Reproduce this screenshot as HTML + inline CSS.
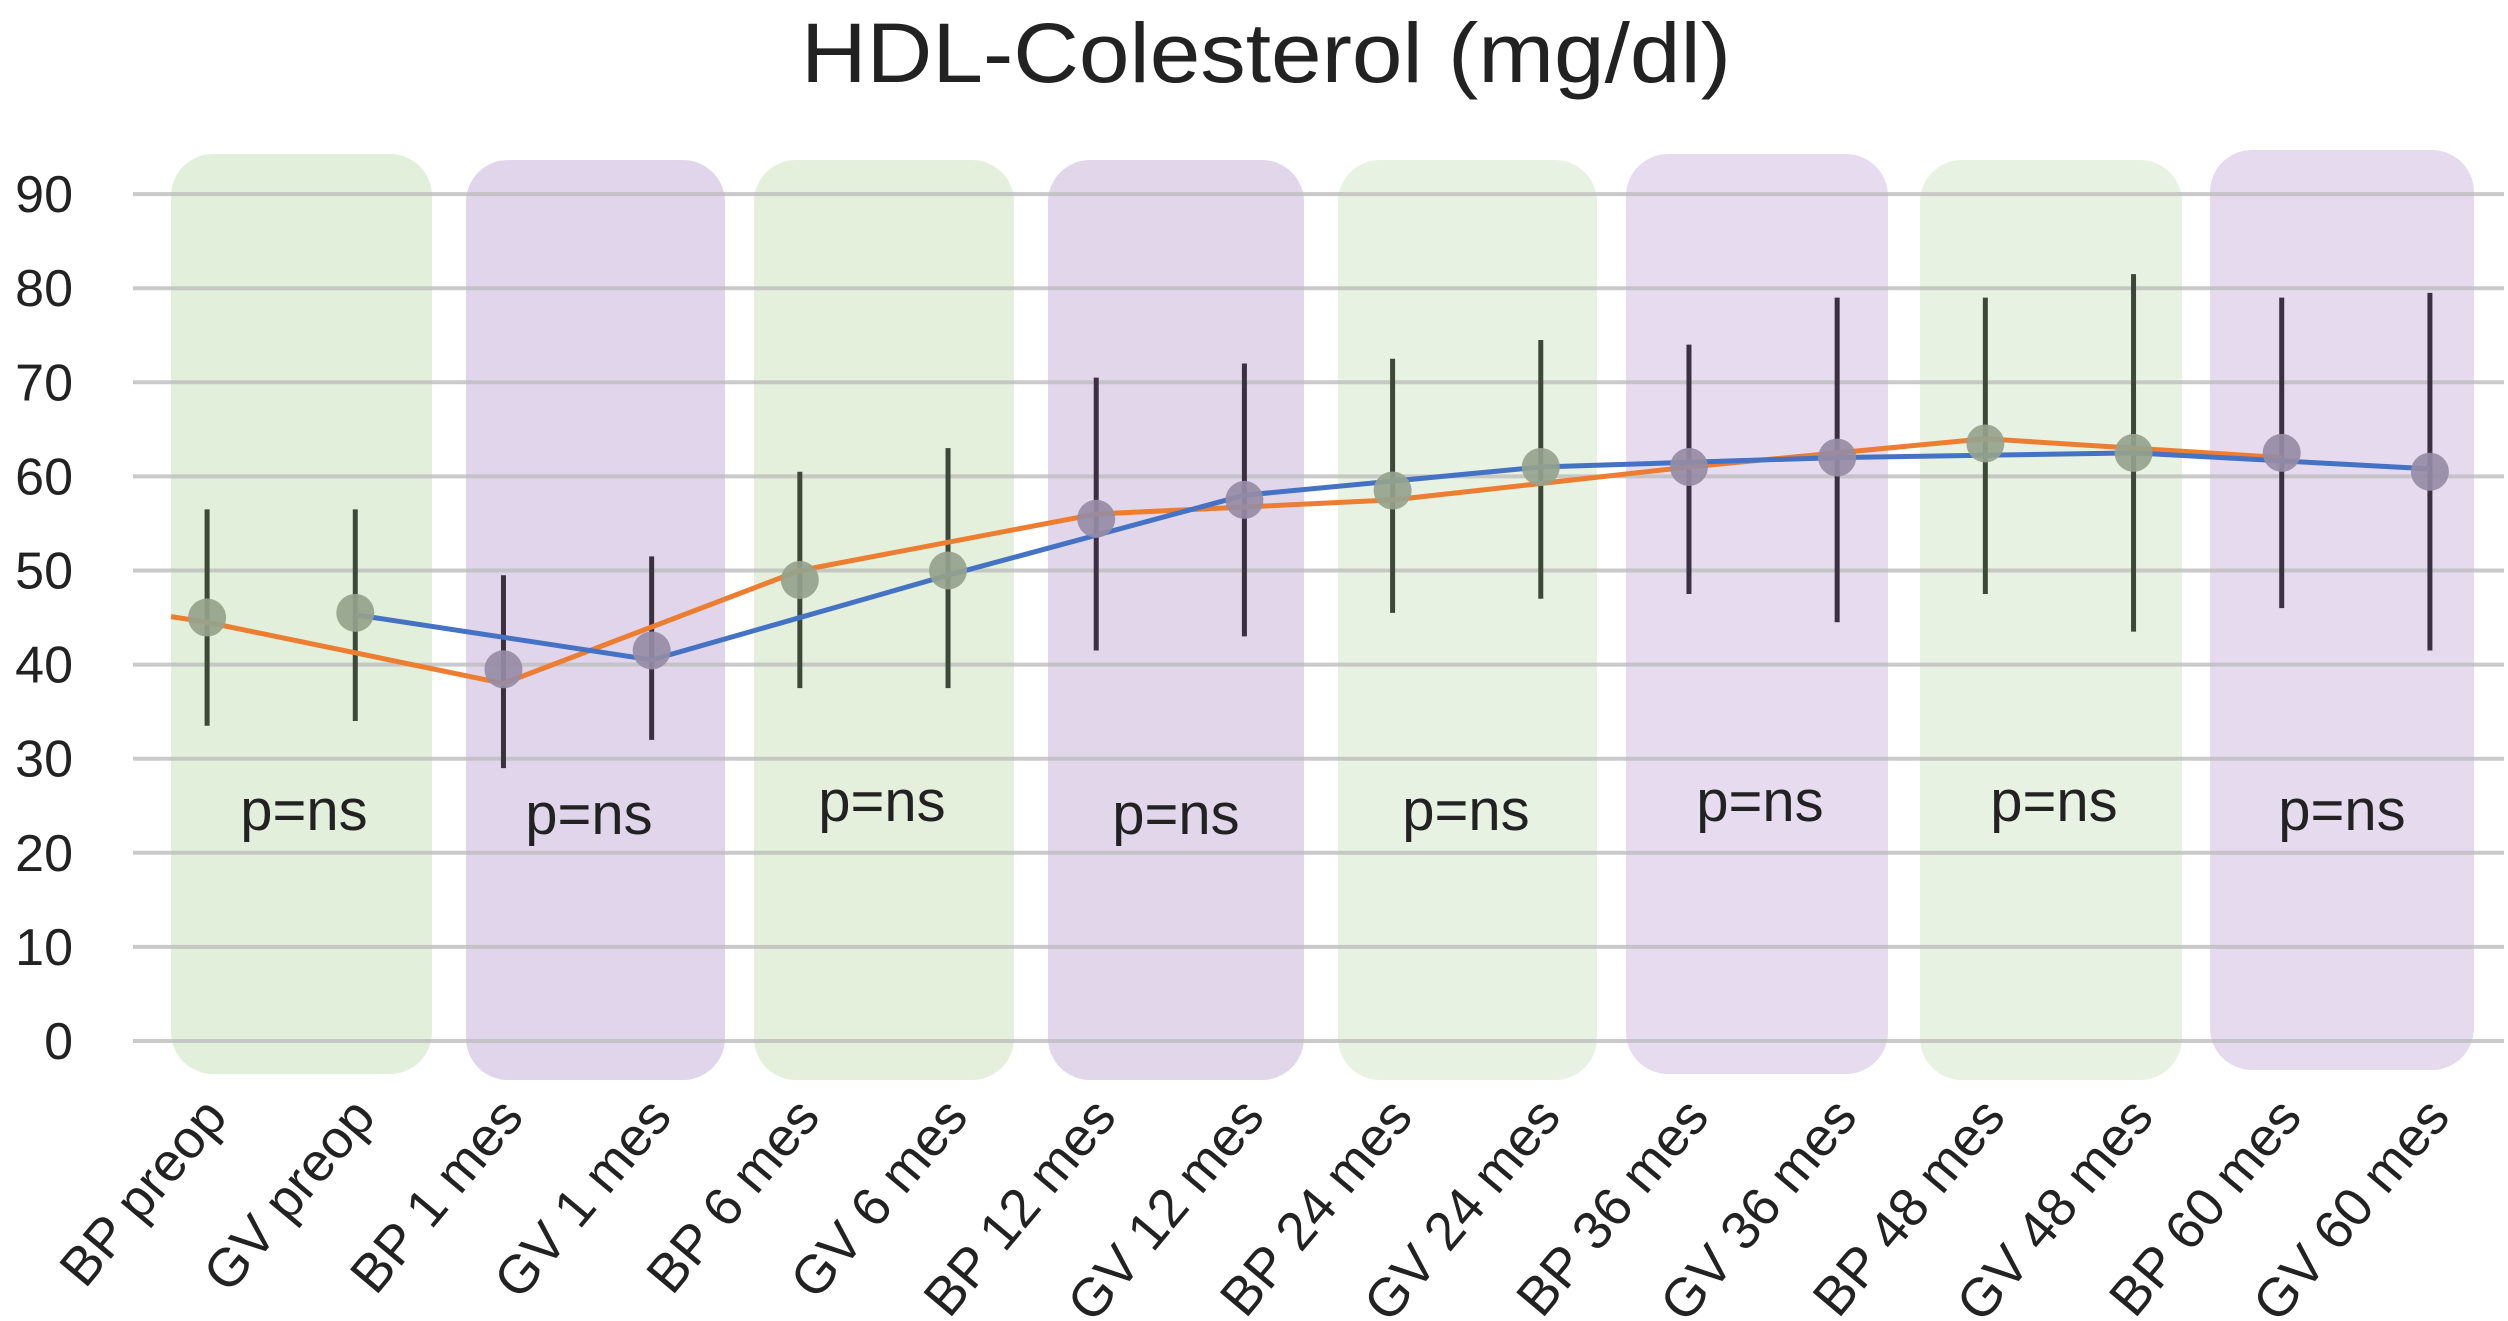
<!DOCTYPE html>
<html><head><meta charset="utf-8">
<style>html,body{margin:0;padding:0;background:#fff}svg{display:block}</style>
</head><body>
<svg id="chart" width="2508" height="1321" viewBox="0 0 2508 1321" xmlns="http://www.w3.org/2000/svg" font-family="'Liberation Sans', sans-serif">
<text x="1266" y="82" font-size="84" text-anchor="middle" fill="#222" textLength="930" lengthAdjust="spacingAndGlyphs">HDL-Colesterol (mg/dl)</text>
<g id="boxes"></g><g id="grid"></g><g id="plabels"></g><g id="series"></g><g id="xlabels"></g>
</svg>
<script>
const categories = ["BP preop","GV preop","BP 1 mes","GV 1 mes","BP 6 mes","GV 6 mes","BP 12 mes","GV 12 mes","BP 24 mes","GV 24 mes","BP 36 mes","GV 36 mes","BP 48 mes","GV 48 mes","BP 60 mes","GV 60 mes"];
const means = [45,45.5,39.5,41.5,49,50,55.5,57.5,58.5,61,61,62,63.5,62.5,62.5,60.5];
const errHigh = [56.5,56.5,49.5,51.5,60.5,63,70.5,72,72.5,74.5,74,79,79,81.5,79,79.5];
const errLow = [33.5,34,29,32,37.5,37.5,41.5,43,45.5,47,47.5,44.5,47.5,43.5,46,41.5];
const bpLine = [44.5,38,50,56,57.5,61,64,62];
const gvLine = [45.3,40.5,49.5,58,61,62,62.5,60.8];
const yTicks = [0,10,20,30,40,50,60,70,80,90];
const pLabels = ["p=ns","p=ns","p=ns","p=ns","p=ns","p=ns","p=ns","p=ns"];

const NS="http://www.w3.org/2000/svg";
const X0=133, X1=2504, Y0=1041, PXU=9.41;
const step=(X1-X0)/categories.length;
const x=i=>X0+step*(i+0.5);
const y=v=>Y0-v*PXU;
function mk(t,a,p){const e=document.createElementNS(NS,t);for(const k in a)e.setAttribute(k,a[k]);p.appendChild(e);return e;}
const boxL=[171,466,754,1048,1338,1626,1920,2210], boxR=[432,725,1014,1304,1597,1888,2182,2474];
const boxT=[154,160,160,160,160,154,160,150], boxB=[1074,1080,1080,1080,1080,1074,1080,1070];
const boxC=["#e2efda","#e1d5eb","#e4f0dc","#e2d6eb","#e8f2e2","#e7dcef","#e8f2e2","#e6daee"];
const bg=document.getElementById('boxes');
for(let k=0;k<8;k++){
  const r=mk('rect',{x:boxL[k],y:boxT[k],width:boxR[k]-boxL[k],height:boxB[k]-boxT[k],rx:42,fill:boxC[k]},bg);
  
  
}
const gg=document.getElementById('grid');
yTicks.forEach(v=>{
  const l=mk('line',{x1:X0,x2:X1,y1:y(v),y2:y(v),stroke:'#bdbdbd','stroke-width':4,'stroke-opacity':0.8},gg);
  
  
  const t=mk('text',{x:73,y:y(v)+18,'font-size':52,'text-anchor':'end',fill:'#222'},gg);
  t.textContent=v;
  
  
});
const pg=document.getElementById('plabels');
const pY=[830,834,821,834,830,821,821,830];
const pX=[304,589,882,1176,1466,1760,2054,2342];
pLabels.forEach((s,k)=>{
  const t=mk('text',{x:pX[k],y:pY[k],'font-size':58,'text-anchor':'middle',fill:'#222'},pg);
  t.textContent=s;
  
  
});
const sg=document.getElementById('series');
categories.forEach((c,i)=>{
  const green=Math.floor(i/2)%2===0;
  const e=mk('line',{x1:x(i),x2:x(i),y1:y(errHigh[i]),y2:y(errLow[i]),stroke:green?'#3c4838':'#3a3042','stroke-width':5},sg);
  
  
});
function line(vals,off,color,name){
  const pts=vals.map((v,k)=>x(2*k+off)+','+y(v)).join(' ');
  const p=mk('polyline',{points:pts,fill:'none',stroke:color,'stroke-width':5,'stroke-linejoin':'round'},sg);
  
  
}
const lead=mk('line',{x1:171,y1:y(bpLine[0]+0.6),x2:x(0),y2:y(bpLine[0]),stroke:'#ed7d31','stroke-width':5},sg);


line(bpLine,0,'#ed7d31','bp-line');
line(gvLine,1,'#4472c4','gv-line');
categories.forEach((c,i)=>{
  const green=Math.floor(i/2)%2===0;
  const m=mk('circle',{cx:x(i),cy:y(means[i]),r:19,fill:green?'#95a38d':'#968ca5','fill-opacity':0.92},sg);
  
  
});
const xg=document.getElementById('xlabels');
categories.forEach((c,i)=>{
  const ax=x(i)+22, ay=1118;
  const t=mk('text',{x:ax,y:ay,'font-size':54,'text-anchor':'end',fill:'#222',transform:`rotate(-50 ${ax} ${ay})`},xg);
  t.textContent=c;
  
  
});
</script>
</body></html>
